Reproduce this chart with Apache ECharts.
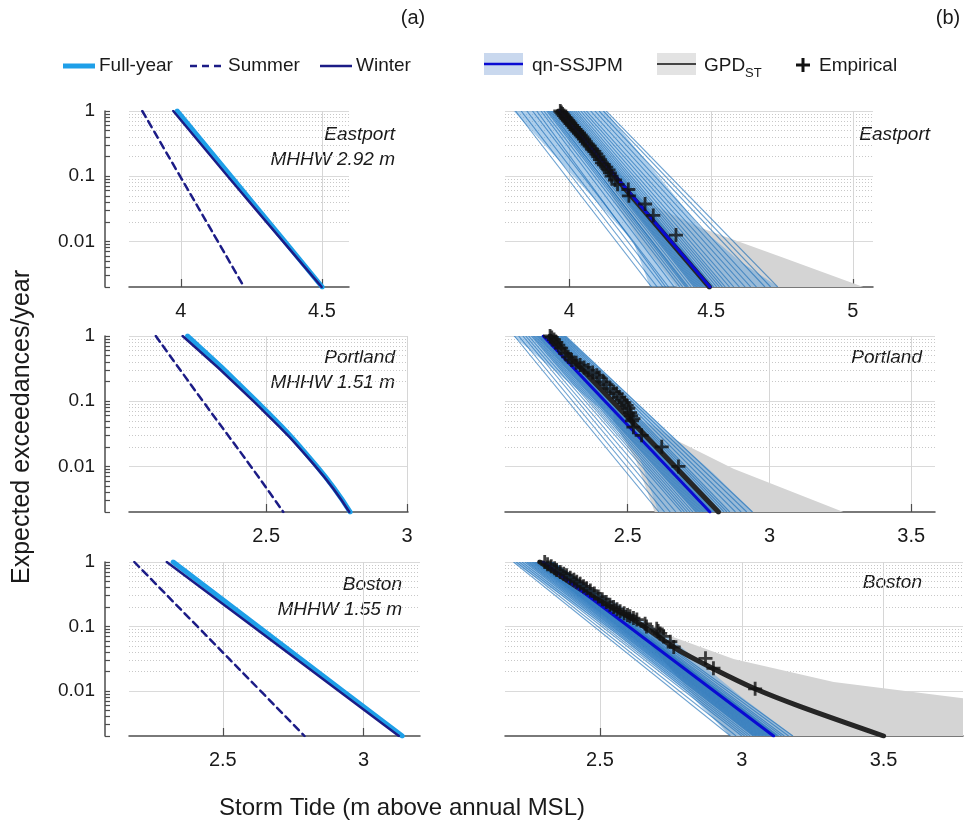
<!DOCTYPE html>
<html>
<head>
<meta charset="utf-8">
<script src="https://cdn.jsdelivr.net/npm/echarts@6/dist/echarts.min.js"></script>
<style>
  html, body { margin: 0; padding: 0; background: #ffffff; }
  #chart { width: 972px; height: 827px; }
</style>
</head>
<body>
<div id="chart"></div>
<script>
// ---------------- data ----------------
const sites = ['Eastport', 'Portland', 'Boston'];
const mhhwLabels = ['MHHW 2.92 m', 'MHHW 1.51 m', 'MHHW 1.55 m'];

// exceedance-rate axis (events/year)
const yTop = 1;
const yBottom = 0.002;
const majorY = [0.01, 0.1, 1];
const minorY = [0.002, 0.003, 0.004, 0.005, 0.006, 0.007, 0.008, 0.009,
                0.02, 0.03, 0.04, 0.05, 0.06, 0.07, 0.08, 0.09,
                0.2, 0.3, 0.4, 0.5, 0.6, 0.7, 0.8, 0.9];

// storm-tide axis extents (m) and tick labels
const xRangeA = [[3.816, 4.596], [2.014, 3.003], [2.167, 3.2]];
const xRangeB = [[3.773, 5.071], [2.067, 3.584], [2.165, 3.78]];
const xTicksA = [[4, 4.5], [2.5, 3], [2.5, 3]];
const xTicksB = [[4, 4.5, 5], [2.5, 3, 3.5], [2.5, 3, 3.5]];

// (a) seasonal return curves: storm tide (m) at each rate in probLevels
const probLevels = [1, 0.1, 0.01, 0.002];
const eastportFullYear = [3.987, 4.177, 4.368, 4.501];
const eastportSummer   = [3.863, 3.997, 4.131, 4.224];
const eastportWinter   = [3.973, 4.166, 4.362, 4.499];
const portlandFullYear = [2.222, 2.466, 2.680, 2.798];
const portlandSummer   = [2.109, 2.276, 2.446, 2.561];
const portlandWinter   = [2.204, 2.455, 2.675, 2.795];
const bostonFullYear   = [2.324, 2.625, 2.926, 3.137];
const bostonSummer     = [2.186, 2.410, 2.634, 2.790];
const bostonWinter     = [2.301, 2.607, 2.912, 3.125];

// (b) qn-SSJPM central estimate (x at yTop, x at yBottom)
const medianRates = [1, 0.002];
const eastportMedian = [3.967, 4.496];
const portlandMedian = [2.202, 2.790];
const bostonMedian   = [2.300, 3.112];

// (b) qn-SSJPM ensemble members: storm tide at 1/yr and at 0.002/yr
const eastportMemberTop = [3.81, 3.83, 3.85, 3.87, 3.885, 3.90, 3.91, 3.92, 3.925, 3.93, 3.935, 3.94, 3.945, 3.95,
                           3.953, 3.956, 3.96, 3.963, 3.966, 3.97, 3.973, 3.976, 3.98, 3.984, 3.988, 3.992, 3.997,
                           4.002, 4.008, 4.015, 4.022, 4.03, 4.04, 4.05, 4.06, 4.075, 4.09, 4.105, 4.12, 4.13];
const eastportMemberBot = [4.29, 4.31, 4.33, 4.35, 4.34, 4.37, 4.39, 4.40, 4.41, 4.42, 4.415, 4.43, 4.44, 4.445,
                           4.45, 4.455, 4.46, 4.465, 4.47, 4.475, 4.48, 4.485, 4.49, 4.495, 4.50, 4.505, 4.51,
                           4.52, 4.53, 4.54, 4.55, 4.565, 4.58, 4.60, 4.62, 4.64, 4.66, 4.69, 4.71, 4.735];
const portlandMemberTop = [2.10, 2.115, 2.13, 2.14, 2.15, 2.16, 2.165, 2.17, 2.175, 2.18, 2.184, 2.188, 2.192,
                           2.196, 2.20, 2.203, 2.206, 2.21, 2.213, 2.216, 2.22, 2.224, 2.228, 2.232, 2.236, 2.24,
                           2.245, 2.25, 2.255, 2.26, 2.265, 2.27, 2.275, 2.28];
const portlandMemberBot = [2.61, 2.63, 2.65, 2.67, 2.69, 2.70, 2.71, 2.72, 2.73, 2.74, 2.745, 2.75, 2.755,
                           2.76, 2.765, 2.77, 2.775, 2.78, 2.785, 2.79, 2.795, 2.80, 2.805, 2.81, 2.815, 2.82,
                           2.83, 2.84, 2.85, 2.86, 2.88, 2.90, 2.92, 2.94];
const bostonMemberTop = [2.195, 2.205, 2.215, 2.225, 2.235, 2.242, 2.248, 2.254, 2.26, 2.265, 2.27, 2.274,
                         2.278, 2.282, 2.286, 2.29, 2.294, 2.298, 2.302, 2.306, 2.31, 2.313, 2.316, 2.319,
                         2.322, 2.325, 2.328, 2.331, 2.334];
const bostonMemberBot = [2.96, 2.98, 3.00, 3.01, 3.02, 3.03, 3.04, 3.045, 3.05, 3.055, 3.06, 3.065,
                         3.07, 3.075, 3.08, 3.085, 3.09, 3.095, 3.10, 3.105, 3.11, 3.115, 3.12, 3.125,
                         3.13, 3.14, 3.15, 3.165, 3.18];

// (b) qn-SSJPM ensemble envelope (polygon, x/y)
const eastportEnvX = [3.803, 4.014, 4.225, 4.285, 4.737, 4.60, 4.465, 4.315, 4.126];
const eastportEnvY = [1, 0.1, 0.01, 0.002, 0.002, 0.005, 0.016, 0.1, 1];
const portlandEnvX = [2.096, 2.402, 2.543, 2.608, 2.943, 2.80, 2.673, 2.285];
const portlandEnvY = [1, 0.0772, 0.0131, 0.002, 0.002, 0.008, 0.025, 1];
const bostonEnvX = [2.194, 2.559, 2.806, 2.959, 3.183, 3.0, 2.76, 2.335];
const bostonEnvY = [1, 0.0755, 0.0097, 0.002, 0.002, 0.008, 0.06, 1];

// (b) GPD_ST confidence band (polygon, x/y)
const eastportGpdBandX = [4.12, 4.30, 4.465, 4.755, 5.037, 4.38, 4.25, 4.16];
const eastportGpdBandY = [0.1, 0.035, 0.016, 0.0056, 0.002, 0.002, 0.01, 0.04];
const portlandGpdBandX = [2.45, 2.60, 2.673, 2.873, 3.261, 2.595, 2.53, 2.45];
const portlandGpdBandY = [0.08, 0.04, 0.025, 0.0092, 0.002, 0.002, 0.012, 0.05];
const bostonGpdBandX = [2.68, 2.748, 2.971, 3.324, 3.78, 3.78, 2.96, 2.80, 2.68];
const bostonGpdBandY = [0.1, 0.0711, 0.0312, 0.0137, 0.0077, 0.002, 0.002, 0.012, 0.05];

// (b) GPD_ST central curve
const eastportGpdX = [3.962, 4.494];
const eastportGpdY = [1, 0.002];
const portlandGpdX = [2.226, 2.820];
const portlandGpdY = [1, 0.002];
const bostonGpdX = [2.288, 2.453, 2.618, 2.771, 2.900, 3.047, 3.207, 3.50];
const bostonGpdY = [1, 0.328, 0.128, 0.0445, 0.0221, 0.0108, 0.00571, 0.002];

// (b) empirical exceedance rates
const eastportEmpX = [3.968, 3.972, 3.976, 3.981, 3.986, 3.990, 3.995, 4.000, 4.004, 4.010, 4.016, 4.022, 4.028,
                      4.034, 4.040, 4.046, 4.052, 4.058, 4.065, 4.072, 4.080, 4.088, 4.095, 4.102, 4.108, 4.115,
                      4.122, 4.130, 4.138, 4.143, 4.149, 4.161, 4.170, 4.208, 4.210, 4.267, 4.296, 4.376];
const eastportEmpY = [1.0, 0.95, 0.9, 0.85, 0.8, 0.76, 0.72, 0.68, 0.64, 0.6, 0.56, 0.52, 0.49,
                      0.46, 0.43, 0.4, 0.37, 0.34, 0.31, 0.29, 0.26, 0.24, 0.22, 0.2, 0.18, 0.16,
                      0.15, 0.1375, 0.125, 0.1125, 0.1, 0.0875, 0.075, 0.0625, 0.05, 0.0375, 0.025, 0.0125];
const portlandEmpX = [2.226, 2.232, 2.240, 2.248, 2.255, 2.265, 2.279, 2.290, 2.302, 2.318, 2.332, 2.346,
                      2.361, 2.376, 2.391, 2.400, 2.415, 2.425, 2.438, 2.450, 2.461, 2.470, 2.479, 2.488,
                      2.496, 2.502, 2.508, 2.512, 2.520, 2.515, 2.520, 2.549, 2.620, 2.679];
const portlandEmpY = [1, 0.95, 0.88, 0.8, 0.727, 0.65, 0.541, 0.48, 0.427, 0.39, 0.358, 0.33,
                      0.30, 0.275, 0.251, 0.23, 0.198, 0.18, 0.156, 0.14, 0.131, 0.115, 0.103, 0.095,
                      0.0866, 0.078, 0.067, 0.06, 0.054, 0.05, 0.04, 0.03, 0.02, 0.01];
const bostonEmpX = [2.305, 2.315, 2.328, 2.340, 2.347, 2.360, 2.372, 2.382, 2.395, 2.408, 2.418, 2.430, 2.442,
                    2.453, 2.466, 2.480, 2.494, 2.508, 2.522, 2.535, 2.548, 2.560, 2.571, 2.585, 2.597, 2.606,
                    2.618, 2.630, 2.659, 2.664, 2.700, 2.705, 2.712, 2.724, 2.748, 2.760, 2.872, 2.900, 3.047];
const bostonEmpY = [1, 0.92, 0.86, 0.8, 0.75, 0.7, 0.66, 0.625, 0.57, 0.53, 0.494, 0.46, 0.42,
                    0.391, 0.36, 0.325, 0.291, 0.265, 0.24, 0.217, 0.2, 0.185, 0.172, 0.16, 0.15, 0.144,
                    0.135, 0.128, 0.11, 0.1, 0.092, 0.085, 0.078, 0.07, 0.058, 0.048, 0.032, 0.0225, 0.0108];

// ---------------- styling / layout ----------------
const FONT = "'Liberation Sans', Arial, Helvetica, sans-serif";
const C_FULL = '#1e9fe8';
const C_NAVY = '#1c1c86';
const C_MEDIAN = '#0a0ad2';
const C_GPD = '#262626';
const C_GPD_BAND = '#d4d4d4';
const C_ENV = 'rgba(105, 165, 218, 0.55)';
const C_MEMBER = 'rgba(20, 105, 180, 0.62)';
const C_AXIS = '#4d4d4d';
const C_TEXT = '#1a1a1a';

const layout = {
  rowTop: [111, 336, 562],
  rowHeight: [176, 176, 174],
  leftA: 129, widthA: [220, 279, 291],
  leftB: 505, widthB: [368, 430, 458]
};

const seasonal = [
  { full: eastportFullYear, summer: eastportSummer, winter: eastportWinter },
  { full: portlandFullYear, summer: portlandSummer, winter: portlandWinter },
  { full: bostonFullYear, summer: bostonSummer, winter: bostonWinter }
];
const modelled = [
  { median: eastportMedian, top: eastportMemberTop, bot: eastportMemberBot,
    envX: eastportEnvX, envY: eastportEnvY, bandX: eastportGpdBandX, bandY: eastportGpdBandY,
    gpdX: eastportGpdX, gpdY: eastportGpdY, empX: eastportEmpX, empY: eastportEmpY },
  { median: portlandMedian, top: portlandMemberTop, bot: portlandMemberBot,
    envX: portlandEnvX, envY: portlandEnvY, bandX: portlandGpdBandX, bandY: portlandGpdBandY,
    gpdX: portlandGpdX, gpdY: portlandGpdY, empX: portlandEmpX, empY: portlandEmpY },
  { median: bostonMedian, top: bostonMemberTop, bot: bostonMemberBot,
    envX: bostonEnvX, envY: bostonEnvY, bandX: bostonGpdBandX, bandY: bostonGpdBandY,
    gpdX: bostonGpdX, gpdY: bostonGpdY, empX: bostonEmpX, empY: bostonEmpY }
];

const zip = (xs, ys) => xs.map((x, i) => [x, ys[i]]);
const PLUS = 'path://M4,0H6V4H10V6H6V10H4V6H0V4H4Z';

function xAxisFor(g, range, ticks) {
  return {
    type: 'value', gridIndex: g, min: range[0], max: range[1],
    axisLine: { show: true, onZero: false, lineStyle: { color: C_AXIS, width: 1.5 } },
    axisTick: { show: true, inside: true, length: 8, customValues: ticks, lineStyle: { color: C_AXIS, width: 1.2 } },
    axisLabel: { show: true, customValues: ticks, fontFamily: FONT, fontSize: 20, color: C_TEXT, margin: 14 },
    splitLine: { show: false }
  };
}

function yAxisFor(g, visible) {
  const ax = { type: 'log', logBase: 10, gridIndex: g, min: yBottom, max: yTop, splitLine: { show: false } };
  if (!visible) { ax.show = false; return ax; }
  return Object.assign(ax, {
    offset: 24,
    axisLine: { show: true, lineStyle: { color: C_AXIS, width: 1.5 } },
    axisTick: { show: true, inside: true, length: 5, customValues: minorY.concat(majorY), lineStyle: { color: C_AXIS, width: 1.2 } },
    axisLabel: { show: true, customValues: majorY, fontFamily: FONT, fontSize: 19, color: C_TEXT, margin: 10 }
  });
}

function gridLines(g, ticks) {
  const data = [];
  minorY.forEach(v => data.push({ yAxis: v, lineStyle: { color: '#c8c8c8', type: [1, 2], width: 1 } }));
  majorY.forEach(v => data.push({ yAxis: v, lineStyle: { color: '#dadada', type: 'solid', width: 1 } }));
  ticks.forEach(v => data.push({ xAxis: v, lineStyle: { color: '#d6d6d6', type: 'solid', width: 1 } }));
  return {
    type: 'line', xAxisIndex: g, yAxisIndex: g, data: [], symbol: 'none', silent: true,
    markLine: { silent: true, z: 0, symbol: ['none', 'none'], label: { show: false },
                emphasis: { disabled: true }, animation: false, data: data }
  };
}

function polygon(g, xs, ys, fill, z) {
  const pts = zip(xs, ys);
  return {
    type: 'custom', xAxisIndex: g, yAxisIndex: g, silent: true, clip: true, z: z,
    data: [pts[0]],
    renderItem: (params, api) => ({
      type: 'polygon',
      shape: { points: pts.map(p => api.coord(p)) },
      style: { fill: fill }
    })
  };
}

function members(g, tops, bots) {
  return {
    type: 'custom', xAxisIndex: g, yAxisIndex: g, silent: true, clip: true, z: 2,
    data: tops.map((t, i) => [t, yTop, bots[i], yBottom]),
    encode: { x: [0, 2], y: [1, 3] },
    renderItem: (params, api) => {
      const a = api.coord([api.value(0), api.value(1)]);
      const b = api.coord([api.value(2), api.value(3)]);
      return { type: 'line', shape: { x1: a[0], y1: a[1], x2: b[0], y2: b[1] },
               style: { stroke: C_MEMBER, lineWidth: 1.1 } };
    }
  };
}

function curve(g, name, xs, ys, color, width, dash, z, smooth) {
  return {
    type: 'line', name: name, xAxisIndex: g, yAxisIndex: g, data: zip(xs, ys),
    symbol: 'none', smooth: smooth || false, silent: true, z: z, clip: true,
    lineStyle: { color: color, width: width, type: dash || 'solid', cap: 'round' }
  };
}

const grids = [], xAxes = [], yAxes = [], series = [];
for (let r = 0; r < 3; r++) {
  const gA = 2 * r, gB = 2 * r + 1;
  grids.push({ left: layout.leftA, top: layout.rowTop[r], width: layout.widthA[r], height: layout.rowHeight[r], outerBoundsMode: 'none' });
  grids.push({ left: layout.leftB, top: layout.rowTop[r], width: layout.widthB[r], height: layout.rowHeight[r], outerBoundsMode: 'none' });
  xAxes.push(xAxisFor(gA, xRangeA[r], xTicksA[r]));
  xAxes.push(xAxisFor(gB, xRangeB[r], xTicksB[r]));
  yAxes.push(yAxisFor(gA, true));
  yAxes.push(yAxisFor(gB, false));

  // (a) seasonal comparison
  const s = seasonal[r];
  series.push(gridLines(gA, xTicksA[r]));
  series.push(curve(gA, 'Full-year', s.full, probLevels, C_FULL, 5, 'solid', 3, 0.5));
  series.push(curve(gA, 'Winter', s.winter, probLevels, C_NAVY, 2.5, 'solid', 4, 0.5));
  series.push(curve(gA, 'Summer', s.summer, probLevels, C_NAVY, 2.5, [7, 5], 4, 0.5));

  // (b) model comparison
  const m = modelled[r];
  series.push(gridLines(gB, xTicksB[r]));
  series.push(polygon(gB, m.bandX, m.bandY, C_GPD_BAND, 1));
  series.push(polygon(gB, m.envX, m.envY, C_ENV, 1));
  series.push(members(gB, m.top, m.bot));
  series.push(curve(gB, 'GPD', m.gpdX, m.gpdY, C_GPD, 5, 'solid', 3, 0.3));
  series.push(curve(gB, 'qn-SSJPM', m.median, medianRates, C_MEDIAN, 3, 'solid', 3, false));
  series.push({
    type: 'scatter', name: 'Empirical', xAxisIndex: gB, yAxisIndex: gB, z: 5, silent: true,
    data: zip(m.empX, m.empY), symbol: PLUS, symbolSize: 14, clip: false,
    itemStyle: { color: '#111111' }
  });
}

// ---------------- text, legend ----------------
const txt = (x, y, text, opts) => Object.assign({
  type: 'text', x: x, y: y, silent: true,
  style: Object.assign({ text: text, font: `19px ${FONT}`, fill: C_TEXT, align: 'left', verticalAlign: 'middle' }, opts || {})
});
const seg = (x1, y1, x2, y2, stroke, w, dash) => ({
  type: 'line', silent: true, shape: { x1, y1, x2, y2 },
  style: { stroke: stroke, lineWidth: w, lineDash: dash || null }
});

const siteA = [[395, 135, 160], [395, 358, 383], [402, 585, 610]];
const siteB = [[930, 135], [922, 358], [922, 583]];
const yTitle = txt(22, 427, 'Expected exceedances/year', { align: 'center', font: `25px ${FONT}` });
yTitle.rotation = Math.PI / 2;
const graphics = [
  txt(413, 18, '(a)', { align: 'center', font: `20px ${FONT}` }),
  txt(948, 18, '(b)', { align: 'center', font: `20px ${FONT}` }),
  // legend for (a)
  seg(63, 66, 95, 66, C_FULL, 5),
  txt(99, 66, 'Full-year'),
  seg(190, 66, 222, 66, C_NAVY, 2.5, [7, 5]),
  txt(228, 66, 'Summer'),
  seg(320, 66, 352, 66, C_NAVY, 2.5),
  txt(356, 66, 'Winter'),
  // legend for (b)
  { type: 'rect', silent: true, shape: { x: 484, y: 53, width: 39, height: 22 }, style: { fill: '#c9d8ee' } },
  seg(484, 64, 523, 64, C_MEDIAN, 2.5),
  txt(532, 66, 'qn-SSJPM'),
  { type: 'rect', silent: true, shape: { x: 657, y: 53, width: 39, height: 22 }, style: { fill: '#e3e3e3' } },
  seg(657, 64, 696, 64, '#444444', 2),
  txt(704, 66, 'GPD'),
  txt(745, 73, 'ST', { font: `13px ${FONT}` }),
  seg(796, 65, 810, 65, '#111111', 3),
  seg(803, 58, 803, 72, '#111111', 3),
  txt(819, 66, 'Empirical'),
  // axis titles
  yTitle,
  txt(402, 808, 'Storm Tide (m above annual MSL)', { align: 'center', font: `24px ${FONT}` })
];
for (let r = 0; r < 3; r++) {
  graphics.push(txt(siteA[r][0], siteA[r][1], sites[r], { align: 'right', font: `italic 19px ${FONT}` }));
  graphics.push(txt(siteA[r][0], siteA[r][2], mhhwLabels[r], { align: 'right', font: `italic 19px ${FONT}` }));
  graphics.push(txt(siteB[r][0], siteB[r][1], sites[r], { align: 'right', font: `italic 19px ${FONT}` }));
}

const chart = echarts.init(document.getElementById('chart'), null, { renderer: 'canvas' });
chart.setOption({
  backgroundColor: '#ffffff',
  animation: false,
  grid: grids,
  xAxis: xAxes,
  yAxis: yAxes,
  series: series,
  graphic: { elements: graphics }
});
</script>
</body>
</html>
